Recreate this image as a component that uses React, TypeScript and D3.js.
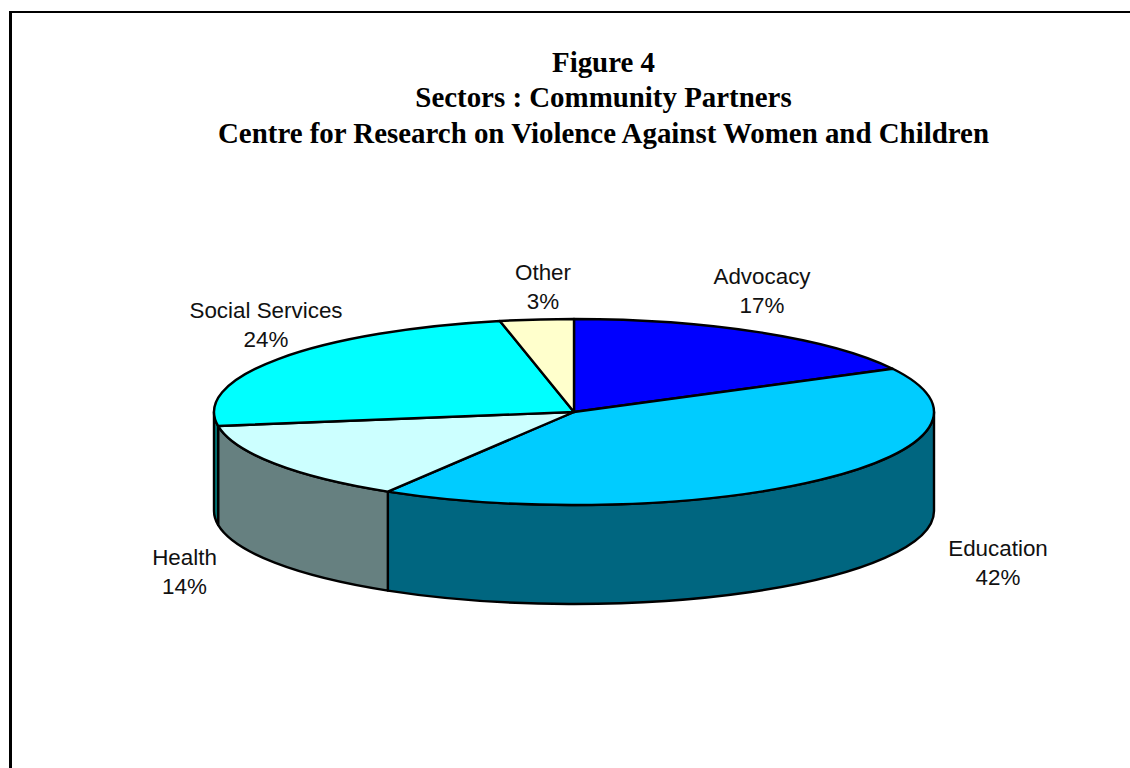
import React from "react";
import * as d3 from "d3";

const categories = ["Advocacy", "Education", "Health", "Social Services", "Other"];
const shares = [17.3, 41.35, 13.95, 24.1, 3.3];
const shareLabels = [17, 42, 14, 24, 3];
const topColors = ["#0000FF", "#00CCFF", "#CCFFFF", "#00FFFF", "#FFFFCC"];
const sideColors = ["#000080", "#006680", "#668080", "#008080", "#808066"];
const titleLines = [
  "Figure 4",
  "Sectors : Community Partners",
  "Centre for Research on Violence Against Women and Children",
];

const W = 1130, H = 768;
const cx = 574, cy = 412, rx = 360, ry = 93, depth = 99;
const labelCenters: [number, number][] = [
  [762, 284], [998, 556], [184.5, 565], [266, 318], [543, 280],
];

const px = (a: number) => cx + rx * Math.sin(a);
const py = (a: number, dz = 0) => cy - ry * Math.cos(a) + dz;

export default function App() {
  const arcs = d3.pie<number>().sort(null)(shares);

  const topPath = (a0: number, a1: number) =>
    `M${cx},${cy}L${px(a0)},${py(a0)}A${rx},${ry} 0 ${a1 - a0 > Math.PI ? 1 : 0} 1 ${px(a1)},${py(a1)}Z`;

  const sidePath = (a0: number, a1: number) => {
    const s = Math.max(a0, Math.PI / 2);
    const e = Math.min(a1, (3 * Math.PI) / 2);
    if (e <= s) return null;
    return `M${px(s)},${py(s)}A${rx},${ry} 0 0 1 ${px(e)},${py(e)}L${px(e)},${py(e, depth)}A${rx},${ry} 0 0 0 ${px(s)},${py(s, depth)}Z`;
  };

  return (
    <svg width={W} height={H} viewBox={`0 0 ${W} ${H}`}
      style={{ position: "absolute", left: 0, top: 0, background: "#fff", display: "block" }}>
      <line x1={10.5} x2={10.5} y1={11} y2={H} stroke="#000" strokeWidth={3} />
      <line x1={9} x2={W} y1={12} y2={12} stroke="#000" strokeWidth={2} />
      <g fontFamily="'Liberation Serif'" fontWeight="bold" fontSize={28.9} textAnchor="middle" fill="#000">
        {titleLines.map((t, i) => (
          <text key={t} x={603.5} y={71.5 + i * 35.5}>{t}</text>
        ))}
      </g>
      <g stroke="#000" strokeWidth={2.4} strokeLinejoin="round">
        {arcs.map((d, i) => {
          const p = sidePath(d.startAngle, d.endAngle);
          return p ? <path key={"s" + i} d={p} fill={sideColors[i]} /> : null;
        })}
        {arcs.map((d, i) => (
          <path key={"t" + i} d={topPath(d.startAngle, d.endAngle)} fill={topColors[i]} />
        ))}
      </g>
      <g fontFamily="'Liberation Sans'" fontSize={22.4} textAnchor="middle" fill="#111">
        {categories.map((c, i) => (
          <text key={c} x={labelCenters[i][0]} y={labelCenters[i][1]}>
            <tspan x={labelCenters[i][0]}>{c}</tspan>
            <tspan x={labelCenters[i][0]} dy={29}>{shareLabels[i]}%</tspan>
          </text>
        ))}
      </g>
    </svg>
  );
}
